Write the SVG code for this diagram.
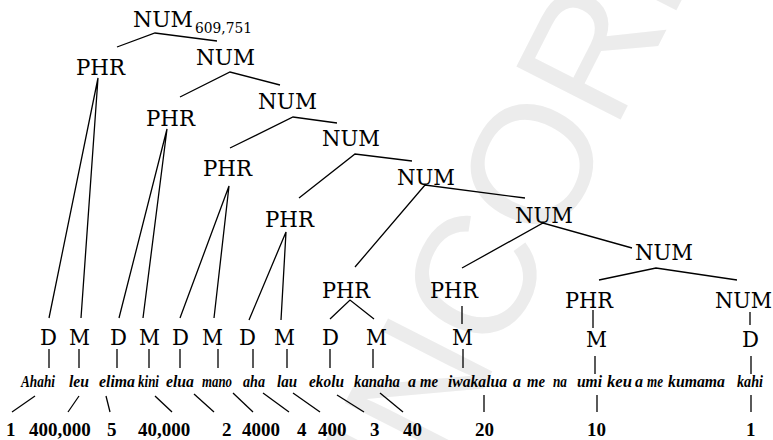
<svg xmlns="http://www.w3.org/2000/svg" width="773" height="440" viewBox="0 0 773 440">
  <style>
    text { font-family: "Liberation Serif", serif; fill: #000; }
    .lbl { font-family: "DejaVu Serif", serif; font-size: 23px; }
    .sub { font-family: "DejaVu Serif", serif; font-size: 14px; }
    .word { font-size: 16px; font-style: italic; font-weight: bold; }
    .num { font-size: 19px; font-weight: bold; }
    .edge { stroke: #000; stroke-width: 1.3; fill: none; stroke-linejoin: miter; }
    text.mark { font-family: "Liberation Sans", sans-serif; font-size: 170px; fill: #ececec; }
  </style>

  <rect width="773" height="440" fill="#fff"/>

  <!-- faint diagonal stamp behind the tree -->
  <text class="mark" transform="translate(387,578) rotate(-63)">UNCORR</text>

  <!-- tree edges -->
  <g id="connectors">
    <polyline class="edge" points="117,47 155,33 217,41"/>
    <polyline class="edge" points="49,318 98,78 81,318"/>
    <polyline class="edge" points="180,97 230,72 280,85"/>
    <polyline class="edge" points="119,318 167,129 143,318"/>
    <polyline class="edge" points="230,148 293,117 337,123"/>
    <polyline class="edge" points="180,318 229,186 214,318"/>
    <polyline class="edge" points="299,198 355,154 412,161"/>
    <polyline class="edge" points="249,320 286,232 281,320"/>
    <polyline class="edge" points="355,267 425,185 525,198"/>
    <polyline class="edge" points="462,268 543,223 632,248"/>
    <polyline class="edge" points="599,280 656,268 737,280"/>
    <polyline class="edge" points="330,319 350,300 374,319"/>
    <line class="edge" x1="462" y1="306" x2="462" y2="324"/>
    <line class="edge" x1="593" y1="310" x2="593" y2="328"/>
    <line class="edge" x1="750" y1="312" x2="750" y2="325"/>
    <!-- leaf ticks -->
    <line class="edge" x1="49" y1="349" x2="49" y2="368"/>
    <line class="edge" x1="79" y1="349" x2="79" y2="368"/>
    <line class="edge" x1="117" y1="349" x2="117" y2="368"/>
    <line class="edge" x1="149" y1="349" x2="149" y2="368"/>
    <line class="edge" x1="180" y1="349" x2="180" y2="368"/>
    <line class="edge" x1="218" y1="349" x2="218" y2="368"/>
    <line class="edge" x1="253" y1="349" x2="253" y2="368"/>
    <line class="edge" x1="287" y1="349" x2="287" y2="368"/>
    <line class="edge" x1="330" y1="349" x2="330" y2="368"/>
    <line class="edge" x1="373" y1="349" x2="373" y2="368"/>
    <line class="edge" x1="463" y1="349" x2="463" y2="368"/>
    <line class="edge" x1="595" y1="356" x2="595" y2="374"/>
    <line class="edge" x1="751" y1="356" x2="751" y2="374"/>
    <!-- word to value links -->
    <line class="edge" x1="35" y1="396" x2="12" y2="412"/>
    <line class="edge" x1="79" y1="396" x2="68" y2="412"/>
    <line class="edge" x1="106" y1="396" x2="110" y2="412"/>
    <line class="edge" x1="155" y1="396" x2="172" y2="412"/>
    <line class="edge" x1="194" y1="394" x2="214" y2="412"/>
    <line class="edge" x1="233" y1="393" x2="253" y2="412"/>
    <line class="edge" x1="263" y1="393" x2="289" y2="412"/>
    <line class="edge" x1="293" y1="393" x2="320" y2="412"/>
    <line class="edge" x1="337" y1="395" x2="364" y2="412"/>
    <line class="edge" x1="380" y1="393" x2="403" y2="412"/>
    <line class="edge" x1="484" y1="395" x2="484" y2="412"/>
    <line class="edge" x1="597" y1="395" x2="597" y2="412"/>
    <line class="edge" x1="751" y1="395" x2="751" y2="412"/>
  </g>

  <!-- phrase structure nodes -->
  <g id="num-root"><text class="lbl" x="133" y="27" textLength="60" lengthAdjust="spacingAndGlyphs">NUM</text><text class="sub" x="195" y="33" textLength="57" lengthAdjust="spacingAndGlyphs">609,751</text></g>
  <g id="phr-1"><text class="lbl" x="76" y="75" textLength="49" lengthAdjust="spacingAndGlyphs">PHR</text></g>
  <g id="num-1"><text class="lbl" x="196" y="65" textLength="59" lengthAdjust="spacingAndGlyphs">NUM</text></g>
  <g id="phr-2"><text class="lbl" x="146" y="126" textLength="49" lengthAdjust="spacingAndGlyphs">PHR</text></g>
  <g id="num-2"><text class="lbl" x="258" y="109" textLength="59" lengthAdjust="spacingAndGlyphs">NUM</text></g>
  <g id="phr-3"><text class="lbl" x="203" y="176" textLength="49" lengthAdjust="spacingAndGlyphs">PHR</text></g>
  <g id="num-3"><text class="lbl" x="322" y="146" textLength="58" lengthAdjust="spacingAndGlyphs">NUM</text></g>
  <g id="phr-4"><text class="lbl" x="265" y="227" textLength="49" lengthAdjust="spacingAndGlyphs">PHR</text></g>
  <g id="num-4"><text class="lbl" x="397" y="185" textLength="58" lengthAdjust="spacingAndGlyphs">NUM</text></g>
  <g id="phr-5"><text class="lbl" x="322" y="298" textLength="48" lengthAdjust="spacingAndGlyphs">PHR</text></g>
  <g id="num-5"><text class="lbl" x="515" y="223" textLength="58" lengthAdjust="spacingAndGlyphs">NUM</text></g>
  <g id="phr-6"><text class="lbl" x="430" y="298" textLength="48" lengthAdjust="spacingAndGlyphs">PHR</text></g>
  <g id="num-6"><text class="lbl" x="635" y="260" textLength="58" lengthAdjust="spacingAndGlyphs">NUM</text></g>
  <g id="phr-7"><text class="lbl" x="565" y="308" textLength="48" lengthAdjust="spacingAndGlyphs">PHR</text></g>
  <g id="num-7"><text class="lbl" x="715" y="308" textLength="57" lengthAdjust="spacingAndGlyphs">NUM</text></g>

  <!-- D / M categories -->
  <g id="d-1"><text class="lbl" x="40" y="345" textLength="17" lengthAdjust="spacingAndGlyphs">D</text></g>
  <g id="m-1"><text class="lbl" x="69" y="345" textLength="21" lengthAdjust="spacingAndGlyphs">M</text></g>
  <g id="d-2"><text class="lbl" x="110" y="345" textLength="17" lengthAdjust="spacingAndGlyphs">D</text></g>
  <g id="m-2"><text class="lbl" x="139" y="345" textLength="21" lengthAdjust="spacingAndGlyphs">M</text></g>
  <g id="d-3"><text class="lbl" x="172" y="345" textLength="17" lengthAdjust="spacingAndGlyphs">D</text></g>
  <g id="m-3"><text class="lbl" x="202" y="345" textLength="21" lengthAdjust="spacingAndGlyphs">M</text></g>
  <g id="d-4"><text class="lbl" x="239" y="345" textLength="17" lengthAdjust="spacingAndGlyphs">D</text></g>
  <g id="m-4"><text class="lbl" x="274" y="345" textLength="21" lengthAdjust="spacingAndGlyphs">M</text></g>
  <g id="d-5"><text class="lbl" x="322" y="345" textLength="17" lengthAdjust="spacingAndGlyphs">D</text></g>
  <g id="m-5"><text class="lbl" x="366" y="345" textLength="21" lengthAdjust="spacingAndGlyphs">M</text></g>
  <g id="m-6"><text class="lbl" x="452" y="345" textLength="21" lengthAdjust="spacingAndGlyphs">M</text></g>
  <g id="m-7"><text class="lbl" x="586" y="347" textLength="21" lengthAdjust="spacingAndGlyphs">M</text></g>
  <g id="d-8"><text class="lbl" x="742" y="347" textLength="17" lengthAdjust="spacingAndGlyphs">D</text></g>

  <!-- Hawaiian words -->
  <g id="words">
    <text class="word" x="21" y="387" textLength="34" lengthAdjust="spacingAndGlyphs">Ahahi</text>
    <text class="word" x="69" y="387" textLength="20" lengthAdjust="spacingAndGlyphs">leu</text>
    <text class="word" x="99" y="387" textLength="36" lengthAdjust="spacingAndGlyphs">elima</text>
    <text class="word" x="138" y="387" textLength="21" lengthAdjust="spacingAndGlyphs">kini</text>
    <text class="word" x="166" y="387" textLength="28" lengthAdjust="spacingAndGlyphs">elua</text>
    <text class="word" x="202" y="387" textLength="30" lengthAdjust="spacingAndGlyphs">mano</text>
    <text class="word" x="243" y="387" textLength="22" lengthAdjust="spacingAndGlyphs">aha</text>
    <text class="word" x="277" y="387" textLength="20" lengthAdjust="spacingAndGlyphs">lau</text>
    <text class="word" x="309" y="387" textLength="35" lengthAdjust="spacingAndGlyphs">ekolu</text>
    <text class="word" x="354" y="387" textLength="46" lengthAdjust="spacingAndGlyphs">kanaha</text>
    <text class="word" x="408" y="387">a</text>
    <text class="word" x="420" y="387" textLength="18" lengthAdjust="spacingAndGlyphs">me</text>
    <text class="word" x="448" y="387" textLength="59" lengthAdjust="spacingAndGlyphs">iwakalua</text>
    <text class="word" x="513" y="387">a</text>
    <text class="word" x="527" y="387" textLength="18" lengthAdjust="spacingAndGlyphs">me</text>
    <text class="word" x="553" y="387" textLength="14" lengthAdjust="spacingAndGlyphs">na</text>
    <text class="word" x="577" y="387" textLength="25" lengthAdjust="spacingAndGlyphs">umi</text>
    <text class="word" x="607" y="387" textLength="25" lengthAdjust="spacingAndGlyphs">keu</text>
    <text class="word" x="635" y="387">a</text>
    <text class="word" x="647" y="387" textLength="16" lengthAdjust="spacingAndGlyphs">me</text>
    <text class="word" x="668" y="387" textLength="57" lengthAdjust="spacingAndGlyphs">kumama</text>
    <text class="word" x="737" y="387" textLength="26" lengthAdjust="spacingAndGlyphs">kahi</text>
  </g>

  <!-- numeric values -->
  <g id="values">
    <text class="num" x="6" y="436">1</text>
    <text class="num" x="29" y="436">400,000</text>
    <text class="num" x="107" y="436">5</text>
    <text class="num" x="138" y="436">40,000</text>
    <text class="num" x="222" y="436">2</text>
    <text class="num" x="242" y="436">4000</text>
    <text class="num" x="297" y="436">4</text>
    <text class="num" x="318" y="436">400</text>
    <text class="num" x="370" y="436">3</text>
    <text class="num" x="403" y="436">40</text>
    <text class="num" x="475" y="436">20</text>
    <text class="num" x="587" y="436">10</text>
    <text class="num" x="746" y="436">1</text>
  </g>
</svg>
